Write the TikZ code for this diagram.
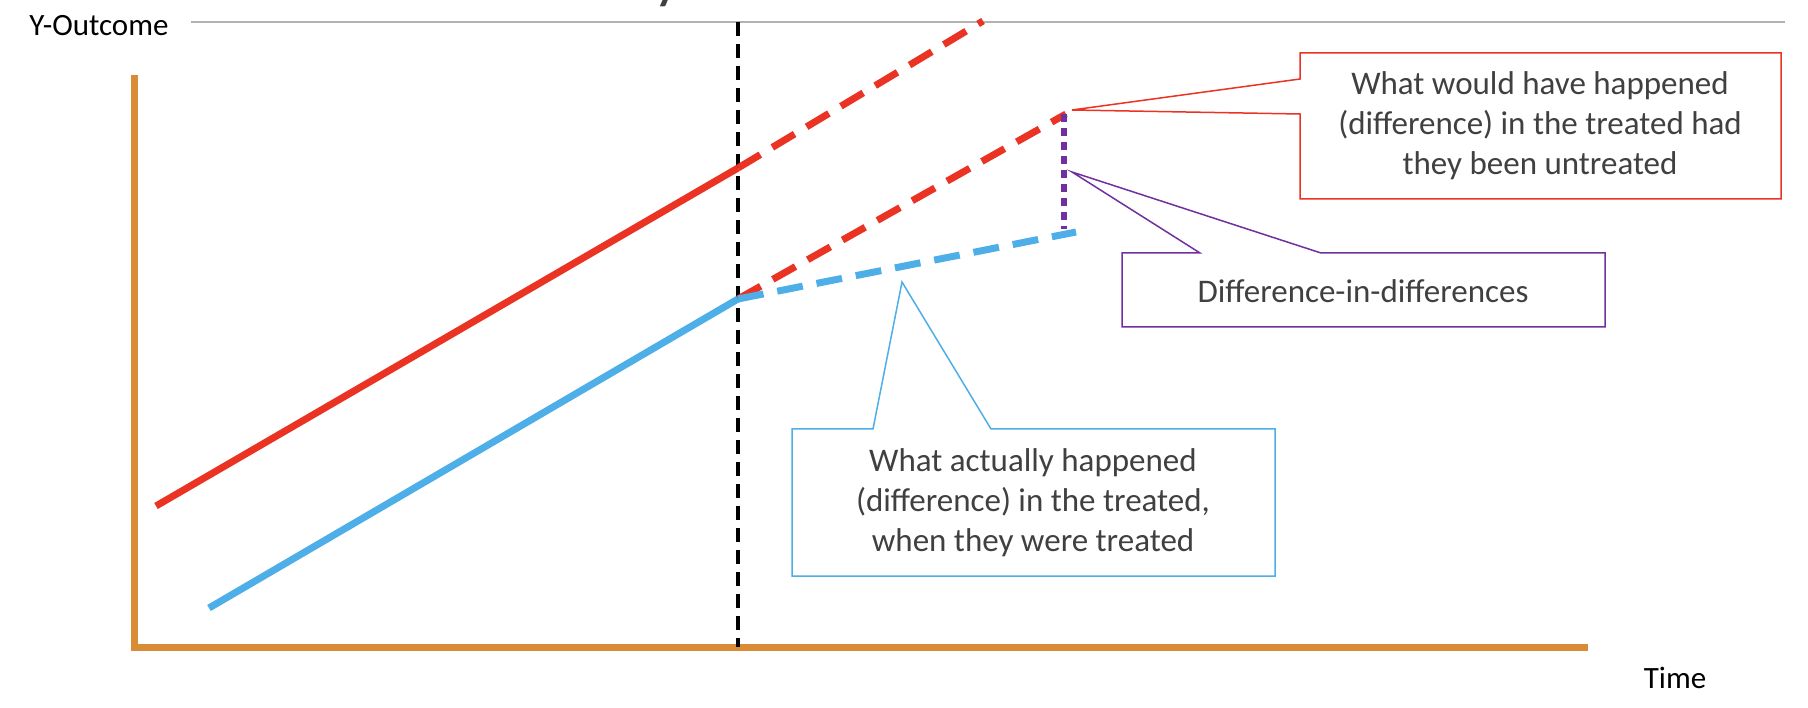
\documentclass[tikz,border=0pt]{standalone}
\usepackage{fontspec}
\setmainfont{Carlito}
\definecolor{ored}{HTML}{EA3323}
\definecolor{oblue}{HTML}{4DAEE8}
\definecolor{oorange}{HTML}{D98C35}
\definecolor{opurple}{HTML}{7030A0}
\definecolor{otext}{HTML}{404040}
\tikzset{
 lbl/.style={text=otext,font=\fontsize{33}{40}\selectfont,align=center},
 thick7/.style={line width=7pt},
 dsh/.style={thick7,dash pattern=on 26pt off 14pt},
 call/.style={line width=1.5pt,fill=white}
}
\begin{document}
\begin{tikzpicture}[x=1pt,y=-1pt]
\useasboundingbox (0,0) rectangle (1808,708);
\begin{scope}
\clip (0,0) rectangle (1808,708);
\node[text=otext,font=\fontsize{64}{64}\selectfont,anchor=base] (ttl) at (668,-3) {y};
\end{scope}
\draw[gray!60,line width=1.5pt] (191,22) -- (1785,22);
\node[font=\fontsize{31}{34}\selectfont] (yo) at (99,26) {Y-Outcome};
\node[font=\fontsize{31}{34}\selectfont] (tm) at (1675,678) {Time};
\draw[oorange,line width=7pt] (134,75) -- (134,647) -- (1588,647);
\draw[black,line width=4pt,dash pattern=on 14pt off 8pt] (738,22) -- (738,647);
\draw[ored,thick7] (156,506) -- (738,168);
\draw[ored,dsh] (738,168) -- (983,21);
\draw[ored,dsh] (738,299) -- (1066,114);
\draw[oblue,thick7] (209,608) -- (738,299);
\draw[oblue,dsh] (738,299) -- (1076,232);
\draw[opurple,line width=6pt,dash pattern=on 8pt off 6pt] (1064,114) -- (1064,229);
\draw[ored,call] (1300,53) -- (1781,53) -- (1781,199) -- (1300,199) -- (1300,114) -- (1072,110) -- (1300,79) -- cycle;
\node[lbl] (rt) at (1540,126) {What would have happened\\(difference) in the treated had\\they been untreated};
\draw[opurple,call] (1122,253) -- (1200,253) -- (1072,172) -- (1321,253) -- (1605,253) -- (1605,327) -- (1122,327) -- cycle;
\node[lbl] (pt) at (1363,291) {Difference-in-differences};
\draw[oblue,call] (792,429) -- (873,429) -- (902,282) -- (991,429) -- (1275,429) -- (1275,576) -- (792,576) -- cycle;
\node[lbl] (bt) at (1033,503) {What actually happened\\(difference) in the treated,\\when they were treated};
\end{tikzpicture}
\end{document}
